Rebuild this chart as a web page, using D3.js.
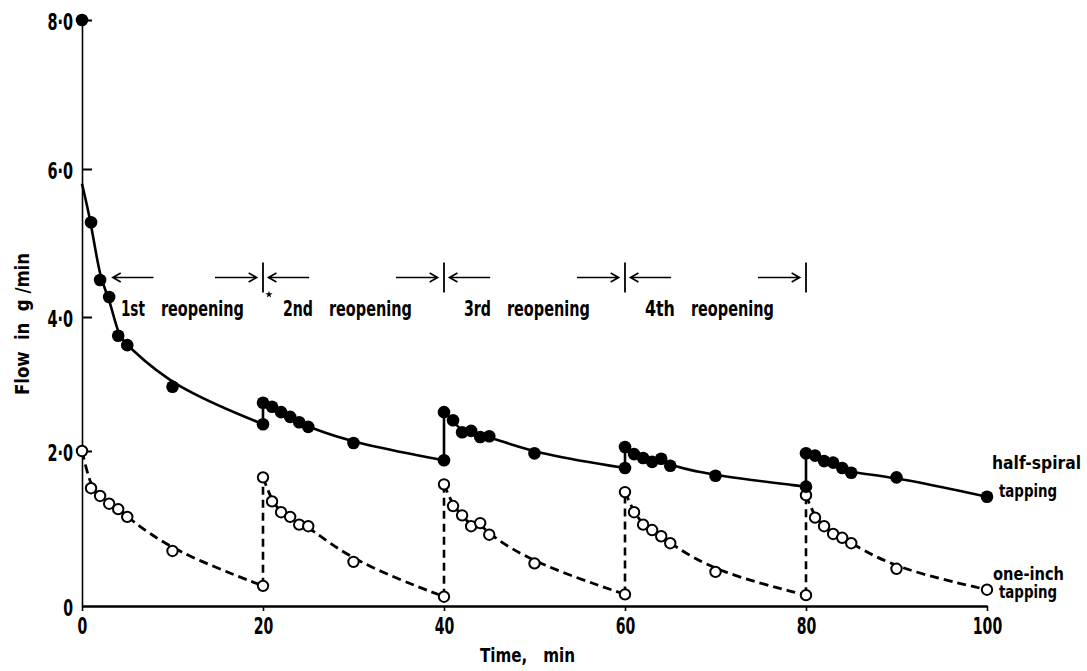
<!DOCTYPE html>
<html>
<head>
<meta charset="utf-8">
<script src="https://cdn.jsdelivr.net/npm/d3@7"></script>
<style>
  html, body { margin: 0; padding: 0; background: #fff; }
  svg { display: block; }
  text { font-family: "Liberation Sans Narrow", "DejaVu Sans Condensed", sans-serif; font-weight: bold; fill: #000; }
  .cond { font-family: "DejaVu Sans Condensed", sans-serif; }
</style>
</head>
<body>
<svg id="chart" width="1087" height="671"></svg>
<script>
// Sampling times inside each 20-minute flow period (minutes after the reopening)
const sampleOffsets = [0, 1, 2, 3, 4, 5, 10, 20];
const periodStarts = [0, 20, 40, 60, 80];

// Half-spiral tapping, flow in g/min, one row per period
const halfSpiral = [
  [8.00, 5.28, 4.50, 4.27, 3.72, 3.58, 2.96, 2.40],
  [2.72, 2.66, 2.58, 2.51, 2.43, 2.36, 2.12, 1.88],
  [2.58, 2.46, 2.28, 2.30, 2.21, 2.22, 1.97, 1.78],
  [2.06, 1.96, 1.91, 1.86, 1.90, 1.81, 1.68, 1.54],
  [1.97, 1.94, 1.87, 1.85, 1.78, 1.72, 1.66, 1.41]
];
// Where the fitted half-spiral curve meets the flow axis at t = 0
const halfSpiralCurveStart = 5.8;

// One-inch tapping, flow in g/min, one row per period
const oneInch = [
  [2.00, 1.52, 1.42, 1.32, 1.25, 1.15, 0.71, 0.26],
  [1.66, 1.35, 1.21, 1.15, 1.05, 1.03, 0.57, 0.12],
  [1.57, 1.29, 1.17, 1.03, 1.07, 0.92, 0.55, 0.15],
  [1.47, 1.21, 1.05, 0.98, 0.90, 0.81, 0.44, 0.14],
  [1.43, 1.14, 1.03, 0.93, 0.88, 0.81, 0.48, 0.21]
];

const reopenings = ["1st", "2nd", "3rd", "4th"];
const xTicks = [0, 20, 40, 60, 80, 100];
const yTicks = [0, 2, 4, 6, 8];
const yTickLabels = ["0", "2·0", "4·0", "6·0", "8·0"];

const svg = d3.select("#chart");
const NB = "\u00a0";

// Narrow lettering: fit a text run to the width its characters need
const narrowWidth = (s) => [...s].reduce((w, c) => w + (c === "·" ? 6 : 9.8), 0);
const squeeze = (sel, width) => sel.attr("textLength", width).attr("lengthAdjust", "spacingAndGlyphs");

// Time axis and the (hand-ruled) flow axis
const x = d3.scaleLinear().domain([0, 100]).range([82, 987]);
const y = d3.scaleLinear().domain([0, 2, 4, 6, 8]).range([606, 451, 317, 169, 20]);

const toPoints = (rows) => rows.map((row, i) =>
  row.map((v, j) => ({ t: periodStarts[i] + sampleOffsets[j], v })));
const hsPts = toPoints(halfSpiral);
const oiPts = toPoints(oneInch);

// ---- axes ----
const xAxis = svg.append("g")
  .attr("transform", `translate(0,${y(0)})`)
  .call(d3.axisBottom(x).tickValues(xTicks).tickSize(5).tickSizeOuter(0).tickPadding(7)
        .tickFormat(d3.format("d")));
xAxis.select(".domain").attr("stroke", "#000").attr("stroke-width", 2.7);
xAxis.selectAll(".tick line").attr("stroke", "#000").attr("stroke-width", 1.6);
xAxis.selectAll(".tick text").attr("font-size", 23).style("font-family", null)
  .each(function () { squeeze(d3.select(this), narrowWidth(this.textContent)); });

const yAxis = svg.append("g")
  .attr("transform", `translate(${x(0)},0)`)
  .call(d3.axisLeft(y).tickValues(yTicks).tickSize(-10).tickSizeOuter(0).tickPadding(9)
        .tickFormat((d, i) => yTickLabels[i]));
yAxis.select(".domain").attr("stroke", "#000").attr("stroke-width", 1.6);
yAxis.selectAll(".tick line").attr("stroke", "#000").attr("stroke-width", 2)
  .attr("display", d => d === 0 ? "none" : null);
yAxis.selectAll(".tick text").attr("font-size", 23).attr("dy", "0.42em")
  .each(function () { squeeze(d3.select(this), narrowWidth(this.textContent)); });

// ---- curves ----
const line = d3.line().x(d => x(d.t)).y(d => y(d.v)).curve(d3.curveBasis);
const gLines = svg.append("g").attr("fill", "none").attr("stroke", "#000");

hsPts.forEach((pts, i) => {
  const curve = i === 0 ? [{ t: 0, v: halfSpiralCurveStart }, ...pts.slice(1)] : pts;
  gLines.append("path").attr("d", line(curve)).attr("stroke-width", 2.6);
  if (i > 0) {
    const prev = hsPts[i - 1][hsPts[i - 1].length - 1];
    gLines.append("line")
      .attr("x1", x(prev.t)).attr("x2", x(pts[0].t))
      .attr("y1", y(prev.v)).attr("y2", y(pts[0].v))
      .attr("stroke-width", 2.6);
  }
});

oiPts.forEach((pts, i) => {
  gLines.append("path").attr("d", line(pts))
    .attr("stroke-width", 2.8).attr("stroke-dasharray", "9 5");
  if (i > 0) {
    const prev = oiPts[i - 1][oiPts[i - 1].length - 1];
    gLines.append("line")
      .attr("x1", x(prev.t)).attr("x2", x(pts[0].t))
      .attr("y1", y(prev.v)).attr("y2", y(pts[0].v))
      .attr("stroke-width", 2.6).attr("stroke-dasharray", "8 5");
  }
});

// ---- markers ----
svg.append("g").selectAll("circle").data(oiPts.flat()).join("circle")
  .attr("cx", d => x(d.t)).attr("cy", d => y(d.v)).attr("r", 5.2)
  .attr("fill", "#fff").attr("stroke", "#000").attr("stroke-width", 2);

svg.append("g").selectAll("circle").data(hsPts.flat()).join("circle")
  .attr("cx", d => x(d.t)).attr("cy", d => y(d.v)).attr("r", 6.3)
  .attr("fill", "#000");

// ---- reopening periods ----
const annoY = 277.5;
const gAnno = svg.append("g");
const arrow = (x0, x1, headAtStart) => {
  const hx = headAtStart ? x0 : x1;
  const s = headAtStart ? 1 : -1;
  gAnno.append("path")
    .attr("d", `M${x0},${annoY}H${x1}M${hx + s * 8},${annoY - 4.5}L${hx},${annoY}L${hx + s * 8},${annoY + 4.5}`)
    .attr("fill", "none").attr("stroke", "#000").attr("stroke-width", 1.6);
};
reopenings.forEach((name, i) => {
  const start = periodStarts[i];
  const end = periodStarts[i + 1];
  const inset = i === 0 ? 3.4 : 0.6;
  arrow(x(start + inset), x(start + inset + 4.5), true);
  arrow(x(start + 14.7), x(start + 19.3), false);
  gAnno.append("line")
    .attr("x1", x(end)).attr("x2", x(end))
    .attr("y1", annoY - 15).attr("y2", annoY + 15)
    .attr("stroke", "#000").attr("stroke-width", 1.8);

  const ox = x(start + (i === 0 ? 4.3 : 2.2));
  const ordW = name === "3rd" ? 27 : (name === "1st" ? 24 : 30);
  squeeze(gAnno.append("text").attr("x", ox).attr("y", 316)
    .attr("font-size", 21).text(name), ordW);
  squeeze(gAnno.append("text").attr("x", ox + ordW + 16).attr("y", 316)
    .attr("font-size", 21).text("reopening"), 83);
});
// small star mark just after the first period boundary
gAnno.append("path")
  .attr("transform", `translate(${x(20) + 6},${annoY + 17})`)
  .attr("d", d3.symbol(d3.symbolStar, 16)())
  .attr("fill", "#000");

// ---- series labels ----
const hsLast = hsPts[4][hsPts[4].length - 1];
const oiLast = oiPts[4][oiPts[4].length - 1];
const gLab = svg.append("g").attr("class", "cond").attr("font-size", 17);
squeeze(gLab.append("text").attr("x", x(hsLast.t) + 5).attr("y", y(hsLast.v) - 28).text("half-spiral"), 89);
squeeze(gLab.append("text").attr("x", x(hsLast.t) + 12).attr("y", y(hsLast.v)).text("tapping"), 58);
squeeze(gLab.append("text").attr("x", x(oiLast.t) + 6).attr("y", y(oiLast.v) - 10).text("one-inch"), 71);
squeeze(gLab.append("text").attr("x", x(oiLast.t) + 12).attr("y", y(oiLast.v) + 8).text("tapping"), 58);

// ---- axis titles ----
squeeze(svg.append("text").attr("x", 480).attr("y", 662)
  .attr("font-size", 20).text(`Time,${NB}${NB}${NB}min`), 95);
squeeze(svg.append("text").attr("transform", "translate(29,395) rotate(-90)")
  .attr("font-size", 20).text(`Flow${NB}${NB}in${NB}${NB}g${NB}/min`), 142);
</script>
</body>
</html>
